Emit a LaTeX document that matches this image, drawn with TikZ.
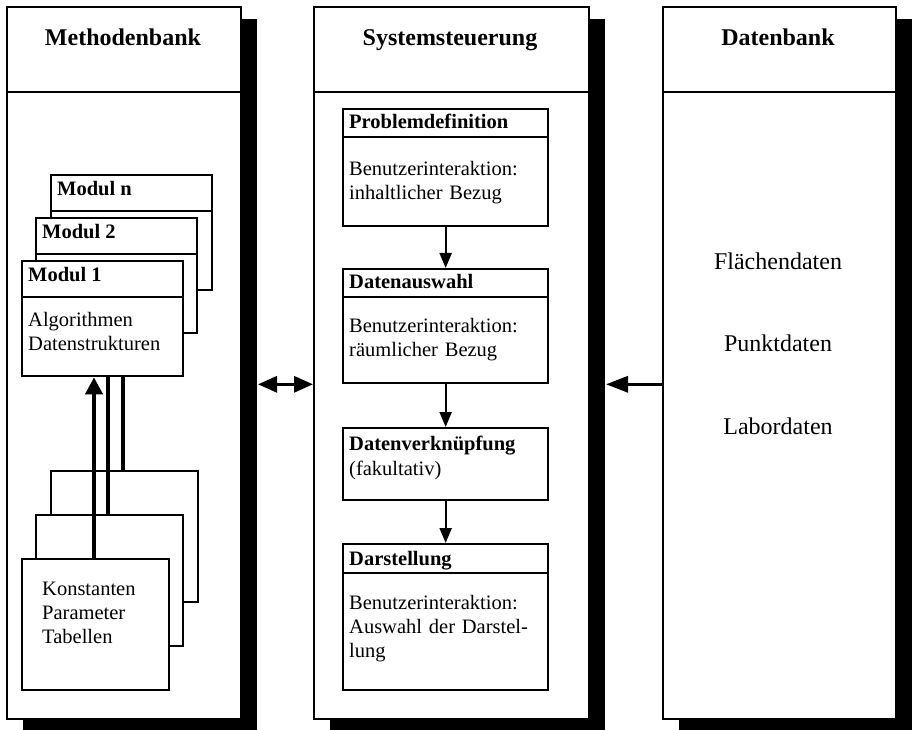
\documentclass[tikz,border=0pt]{standalone}
\usepackage{fontspec}
\setmainfont{Liberation Serif}
\usetikzlibrary{arrows.meta,shadows}

\begin{document}
\begin{tikzpicture}[x=1pt, y=-1pt,
    panel/.style={draw, line width=2pt, fill=white, anchor=north west, inner sep=0pt,
        minimum height=712pt, drop shadow={shadow xshift=16pt, shadow yshift=-12pt, fill=black, opacity=1}},
    paneltitle/.style={font=\fontsize{24}{28}\selectfont\bfseries, anchor=base, inner sep=0pt},
    datatext/.style={font=\fontsize{24}{28}\selectfont, anchor=base, inner sep=0pt},
    modbox/.style={draw, line width=2.3pt, fill=white, anchor=north west, inner sep=0pt,
        minimum width=161pt, minimum height=115pt},
    tabbox/.style={draw, line width=2.3pt, fill=white, anchor=north west, inner sep=0pt,
        minimum width=147pt, minimum height=131pt},
    stepbox/.style={draw, line width=2.3pt, fill=white, anchor=north west, inner sep=0pt,
        minimum width=205pt},
    head/.style={font=\fontsize{20.5}{24}\selectfont\bfseries, anchor=base west, inner sep=0pt},
    body/.style={font=\fontsize{20.5}{24}\selectfont, anchor=base west, inner sep=0pt,
        align=left, text width=195pt},
    divider/.style={line width=1.5pt},
    flow/.style={line width=2.2pt, -{Triangle[length=15pt,width=12pt]}},
    feed/.style={line width=3.8pt},
    link/.style={line width=3.2pt}]
    \useasboundingbox (0,0) rectangle (914,730);

    % Panels
    \node[panel, minimum width=234pt] (MB) at (6,6) {};
    \node[panel, minimum width=275pt] (SS) at (313,6) {};
    \node[panel, minimum width=233pt] (DB) at (662,6) {};
    \draw[line width=2pt] ([yshift=-86pt]MB.north west) -- ([yshift=-86pt]MB.north east);
    \draw[line width=2pt] ([yshift=-86pt]SS.north west) -- ([yshift=-86pt]SS.north east);
    \draw[line width=2pt] ([yshift=-86pt]DB.north west) -- ([yshift=-86pt]DB.north east);
    \node[paneltitle] (mbtitle) at (123,46) {Methodenbank};
    \node[paneltitle] (sstitle) at (450,46) {Systemsteuerung};
    \node[paneltitle] (dbtitle) at (778,46) {Datenbank};

    % Module stack
    \node[modbox] (mn) at (50,174) {};
    \draw[divider] ([yshift=-37pt]mn.north west) -- ([yshift=-37pt]mn.north east);
    \node[head] (mnhead) at (57,196) {Modul n};
    \node[modbox] (m2) at (35,217) {};
    \draw[divider] ([yshift=-37pt]m2.north west) -- ([yshift=-37pt]m2.north east);
    \node[head] (m2head) at (42,239) {Modul 2};
    \node[modbox] (m1) at (21,260) {};
    \draw[divider] ([yshift=-37pt]m1.north west) -- ([yshift=-37pt]m1.north east);
    \node[head] (m1head) at (28,282) {Modul 1};
    \node[body] (m1body) at (28,327) {Algorithmen\\Datenstrukturen};

    % Table stack
    \node[tabbox] (k3) at (50,470) {};
    \node[tabbox] (k2) at (35,514) {};
    \node[tabbox] (k1) at (21,558) {};
    \node[body] (k1body) at (42,595) {Konstanten\\Parameter\\Tabellen};

    % Feed lines into Modul 1
    \coordinate (f1) at ([xshift=73pt]k1.north west);
    \coordinate (f2) at ([xshift=73pt]k2.north west);
    \coordinate (f3) at ([xshift=73pt]k3.north west);
    \draw[feed, -{Triangle[length=17pt,width=17pt]}] (f1) -- (f1 |- m1.south);
    \draw[feed] (f2) -- (f2 |- m1.south);
    \draw[feed] (f3) -- (f3 |- m1.south);

    % Steps
    \node[stepbox, minimum height=117pt] (PD) at (342,108) {};
    \draw[divider] ([yshift=-29pt]PD.north west) -- ([yshift=-29pt]PD.north east);
    \node[head] (pdhead) at (349,129) {Problemdefinition};
    \node[body] (pdbody) at (349,176) {Benutzerinteraktion:\\inhaltlicher Bezug};

    \node[stepbox, minimum height=114pt] (DA) at (342,268) {};
    \draw[divider] ([yshift=-29pt]DA.north west) -- ([yshift=-29pt]DA.north east);
    \node[head] (dahead) at (349,289) {Datenauswahl};
    \node[body] (dabody) at (349,333) {Benutzerinteraktion:\\räumlicher Bezug};

    \node[stepbox, minimum height=72pt] (DV) at (342,427) {};
    \node[head] (dvhead) at (349,450) {Datenverknüpfung};
    \node[body] (dvbody) at (349,475) {(fakultativ)};

    \node[stepbox, minimum height=146pt] (DS) at (342,543) {};
    \draw[divider] ([yshift=-30pt]DS.north west) -- ([yshift=-30pt]DS.north east);
    \node[head] (dshead) at (349,565) {Darstellung};
    \node[body] (dsbody) at (349,609) {Benutzerinteraktion:\\Auswahl der Darstel-\\lung};

    \draw[flow] (PD) -- (DA);
    \draw[flow] (DA) -- (DV);
    \draw[flow] (DV) -- (DS);

    % Data
    \node[datatext] (flaeche) at (778,270) {Flächendaten};
    \node[datatext] (punkt) at (778,352) {Punktdaten};
    \node[datatext] (labor) at (778,434) {Labordaten};

    % Links between panels
    \coordinate (mbedge) at ([xshift=16pt]MB.east);
    \coordinate (ssedge) at ([xshift=16pt]SS.east);
    \draw[link, {Triangle[length=19pt,width=16pt]}-{Triangle[length=19pt,width=16pt]}]
        (mbedge |- DA.south) -- (SS.west |- DA.south);
    \draw[link, -{Triangle[length=22pt,width=16pt]}] (DB.west |- DA.south) -- (ssedge |- DA.south);
\end{tikzpicture}
\end{document}
